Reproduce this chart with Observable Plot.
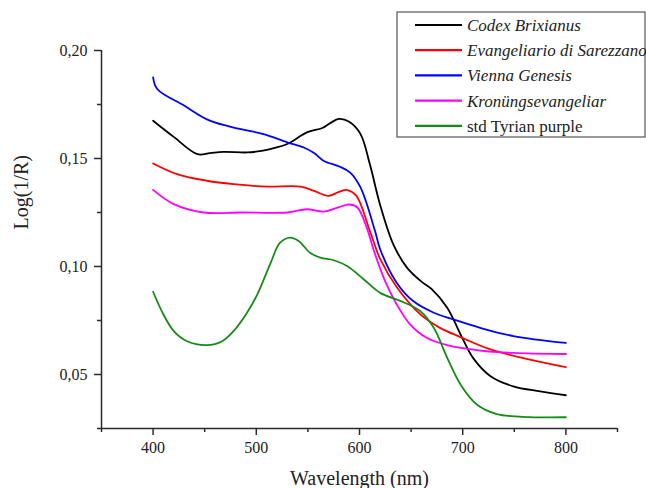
<!DOCTYPE html>
<html>
<head>
<meta charset="utf-8">
<script src="https://cdn.jsdelivr.net/npm/d3@7"></script>
<script src="https://cdn.jsdelivr.net/npm/@observablehq/plot@0.6"></script>
<style>
  html, body { margin: 0; padding: 0; background: #fff; }
  #chart { width: 646px; height: 488px; }
</style>
</head>
<body>
<div id="chart"></div>
<script>
// ---- data ----
const seriesNames = ["Codex Brixianus", "Evangeliario di Sarezzano", "Vienna Genesis", "Kronüngsevangeliar", "std Tyrian purple"];
const seriesColors = ["#000000", "#ff0000", "#0000ff", "#ff00ff", "#178a17"];
const seriesItalic = [true, true, true, true, false];

const codexWl = [400, 420, 443, 455, 468, 491, 505, 517, 530, 549, 564, 572, 580, 590, 601, 610, 620, 633, 646, 660, 670, 685, 698, 710, 727, 749, 775, 800];
const codexVal = [0.1675, 0.1600, 0.1520, 0.1525, 0.1531, 0.1528, 0.1535, 0.1548, 0.1567, 0.1621, 0.1641, 0.1665, 0.1683, 0.1670, 0.1613, 0.1474, 0.1285, 0.1100, 0.0995, 0.0930, 0.0895, 0.0809, 0.0685, 0.0577, 0.0492, 0.0445, 0.0422, 0.0404];

const sarezzanoWl = [400, 423, 452, 478, 510, 543, 556, 570, 580, 588, 597, 610, 620, 636, 659, 678, 698, 727, 765, 800];
const sarezzanoVal = [0.1477, 0.1428, 0.1397, 0.1381, 0.1370, 0.1370, 0.1350, 0.1327, 0.1345, 0.1354, 0.1327, 0.1165, 0.1035, 0.0905, 0.0778, 0.0716, 0.0673, 0.0616, 0.0569, 0.0534];

const viennaWl = [400, 404, 430, 455, 484, 507, 530, 546, 556, 565, 581, 591, 601, 615, 620, 636, 652, 672, 691, 717, 749, 800];
const viennaVal = [0.1876, 0.1822, 0.1745, 0.1675, 0.1637, 0.1613, 0.1575, 0.1551, 0.1525, 0.1490, 0.1462, 0.1435, 0.1366, 0.1165, 0.1080, 0.0925, 0.0840, 0.0786, 0.0755, 0.0716, 0.0678, 0.0646];

const kronWl = [400, 420, 449, 485, 530, 549, 565, 580, 590, 598, 607, 614, 625, 636, 649, 665, 685, 717, 749, 800];
const kronVal = [0.1355, 0.1289, 0.1250, 0.1250, 0.1250, 0.1265, 0.1254, 0.1275, 0.1287, 0.1273, 0.1180, 0.1072, 0.0930, 0.0825, 0.0732, 0.0670, 0.0636, 0.0611, 0.0600, 0.0595];

const tyrianWl = [400, 410, 420, 433, 452, 467, 478, 491, 501, 514, 523, 533, 541, 552, 562, 575, 588, 604, 620, 640, 659, 672, 685, 698, 714, 733, 765, 800];
const tyrianVal = [0.0883, 0.0778, 0.0701, 0.0654, 0.0636, 0.0654, 0.0701, 0.0786, 0.0871, 0.1018, 0.1110, 0.1134, 0.1118, 0.1064, 0.1041, 0.1029, 0.1002, 0.0941, 0.0878, 0.0840, 0.0793, 0.0716, 0.0577, 0.0453, 0.0360, 0.0317, 0.0303, 0.0302];

const xMajorTicks = [400, 500, 600, 700, 800];
const xMinorTicks = [350, 450, 550, 650, 750, 850];
const yMajorTicks = [0.05, 0.10, 0.15, 0.20];
const yMinorTicks = [0.075, 0.125, 0.175];
const xLabel = "Wavelength (nm)";
const yLabel = "Log(1/R)";

// ---- build table ----
const allWl = [codexWl, sarezzanoWl, viennaWl, kronWl, tyrianWl];
const allVal = [codexVal, sarezzanoVal, viennaVal, kronVal, tyrianVal];
const rows = [];
allWl.forEach((wl, s) => wl.forEach((w, i) => rows.push({series: seriesNames[s], wl: w, v: allVal[s][i]})));

const serif = "'Liberation Serif', 'Times New Roman', Times, serif";
const axisColor = "#2b2b2b";
const fmtY = d => d3.format(".2f")(d).replace(".", ",");

const plot = Plot.plot({
  width: 646,
  height: 488,
  marginLeft: 101,
  marginRight: 29,
  marginTop: 50,
  marginBottom: 60,
  style: {fontFamily: serif, fontSize: "16px", background: "#fff", color: "#222"},
  x: {domain: [350, 850]},
  y: {domain: [0.025, 0.20]},
  color: {domain: seriesNames, range: seriesColors},
  marks: [
    Plot.line(rows, {x: "wl", y: "v", z: "series", stroke: "series", strokeWidth: 1.8, curve: "catmull-rom"}),
    Plot.ruleX([350], {stroke: axisColor, strokeWidth: 1.5}),
    Plot.ruleY([0.025], {stroke: axisColor, strokeWidth: 1.5, insetLeft: -4}),
    Plot.axisX({ticks: xMajorTicks, tickSize: 7, tickPadding: 6, tickFormat: d3.format("d"), stroke: axisColor, strokeWidth: 1.5, fontSize: 16, label: null}),
    Plot.axisX({ticks: xMinorTicks, tickSize: 4, text: null, stroke: axisColor, strokeWidth: 1.5, label: null}),
    Plot.axisY({ticks: yMajorTicks, tickSize: 7, tickPadding: 7, tickFormat: fmtY, stroke: axisColor, strokeWidth: 1.5, fontSize: 16, label: null}),
    Plot.axisY({ticks: yMinorTicks, tickSize: 4, text: null, stroke: axisColor, strokeWidth: 1.5, label: null}),
    Plot.text([xLabel], {frameAnchor: "bottom", dy: 56, fontSize: 20, fill: "#222", fontFamily: serif}),
    Plot.text([yLabel], {frameAnchor: "left", dx: -80, dy: -10, rotate: -90, fontSize: 20, fill: "#222", fontFamily: serif})
  ]
});

// ---- legend box (inside the plot, top right) ----
const svg = d3.select(plot);
const lg = svg.append("g").attr("font-family", serif).attr("font-size", 17).attr("text-anchor", "start");
lg.append("rect").attr("x", 397).attr("y", 12).attr("width", 248).attr("height", 125)
  .attr("fill", "#fff").attr("stroke", "#555").attr("stroke-width", 1.2);
seriesNames.forEach((name, i) => {
  const y = 25 + i * 25.2;
  lg.append("line").attr("x1", 415).attr("x2", 462).attr("y1", y).attr("y2", y)
    .attr("stroke", seriesColors[i]).attr("stroke-width", 2.2);
  lg.append("text").attr("x", 467).attr("y", y + 6).attr("fill", "#222").attr("text-anchor", "start")
    .attr("font-style", seriesItalic[i] ? "italic" : "normal").text(name);
});

document.getElementById("chart").appendChild(plot);
</script>
</body>
</html>
